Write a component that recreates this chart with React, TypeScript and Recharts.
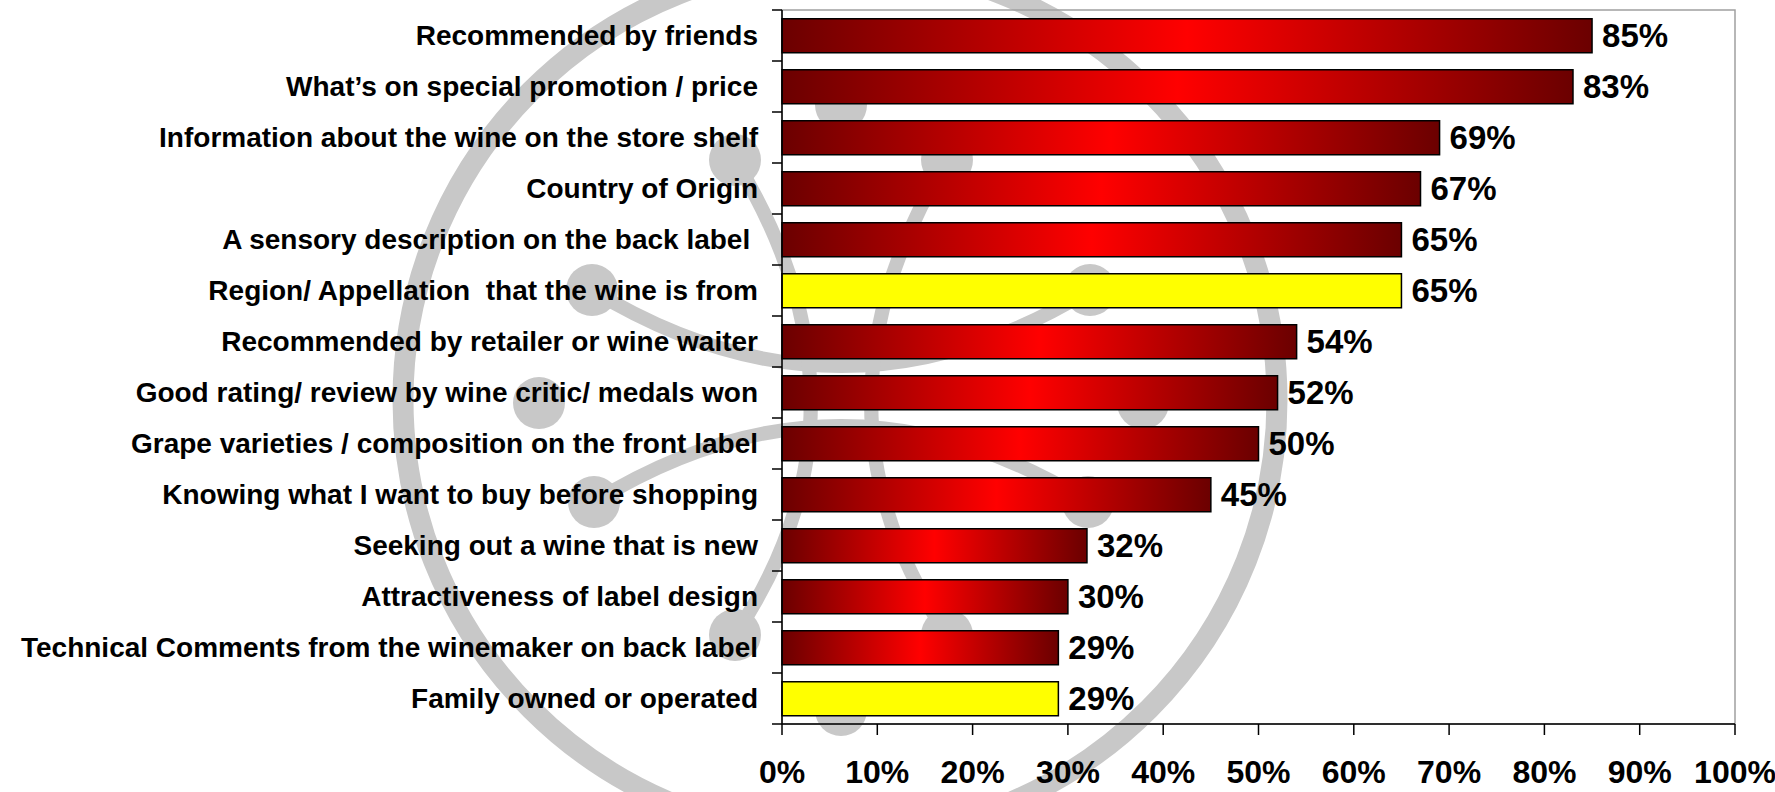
import React from 'react';
import { BarChart, Bar, XAxis, YAxis, Cell, LabelList, ReferenceArea } from 'recharts';

const categories = [
  'Recommended by friends',
  'What’s on special promotion / price',
  'Information about the wine on the store shelf',
  'Country of Origin',
  'A sensory description on the back label ',
  'Region/ Appellation  that the wine is from',
  'Recommended by retailer or wine waiter',
  'Good rating/ review by wine critic/ medals won',
  'Grape varieties / composition on the front label',
  'Knowing what I want to buy before shopping',
  'Seeking out a wine that is new',
  'Attractiveness of label design',
  'Technical Comments from the winemaker on back label',
  'Family owned or operated',
];
const values = [85, 83, 69, 67, 65, 65, 54, 52, 50, 45, 32, 30, 29, 29];
const highlighted = ['Region/ Appellation  that the wine is from', 'Family owned or operated'];
const xTicks = [0, 10, 20, 30, 40, 50, 60, 70, 80, 90, 100];

const W = 1775;
const H = 792;
const MARGIN = { top: 10, right: 40, bottom: 0, left: 0 };
const X_AXIS_H = 68;
const Y_AXIS_W = 782;
const BAND = (H - MARGIN.top - MARGIN.bottom - X_AXIS_H) / categories.length;
const FONT = '"Liberation Sans", Arial, sans-serif';
const GRAY = '#c8c8c8';

const data = categories.map((name, i) => ({ name, value: values[i] }));

// background logo: ring of nodes inside a big circle, purely decorative
const LOGO_C = { x: 841, y: 405 };
const nodes: [number, number][] = [
  [841, 105], [947, 160], [1090, 290], [1143, 403], [1088, 502], [947, 635],
  [841, 710], [735, 635], [594, 502], [539, 403], [592, 290], [735, 160],
];
// pairs of node indexes joined by a curve
const links: [number, number][] = [[10, 2], [8, 4], [7, 11], [1, 5]];

function Watermark() {
  const curves = links.map(([ia, ib], i) => {
    const a = nodes[ia];
    const b = nodes[ib];
    const mx = (a[0] + b[0]) / 2;
    const my = (a[1] + b[1]) / 2;
    const dx = LOGO_C.x - mx;
    const dy = LOGO_C.y - my;
    const len = Math.hypot(dx, dy) || 1;
    const cx = mx + (dx / len) * 152;
    const cy = my + (dy / len) * 152;
    return <path key={i} d={`M${a[0]},${a[1]} Q${cx},${cy} ${b[0]},${b[1]}`} fill="none" stroke={GRAY} strokeWidth={14} />;
  });
  return (
    <svg width={W} height={H} style={{ position: 'absolute', left: 0, top: 0 }}>
      <circle cx={840} cy={400} r={437} fill="none" stroke={GRAY} strokeWidth={21} />
      {curves}
      {nodes.map((n, i) => (
        <circle key={i} cx={n[0]} cy={n[1]} r={26} fill={GRAY} />
      ))}
    </svg>
  );
}

const CategoryTick = (props: any) => {
  const { x, y, payload, index } = props;
  const lx1 = x + 14;
  const lx2 = x + 24;
  return (
    <g>
      <line x1={lx1} x2={lx2} y1={y - BAND / 2} y2={y - BAND / 2} stroke="#000" strokeWidth={1.5} />
      {index === categories.length - 1 && (
        <line x1={lx1} x2={lx2} y1={y + BAND / 2} y2={y + BAND / 2} stroke="#000" strokeWidth={1.5} />
      )}
      <text
        x={x}
        y={y}
        dy="0.355em"
        textAnchor="end"
        fill="#000"
        fontSize={28}
        fontWeight="bold"
        fontFamily={FONT}
        style={{ whiteSpace: 'pre' }}
      >
        {payload.value}
      </text>
    </g>
  );
};

export default function App() {
  return (
    <div style={{ position: 'absolute', left: 0, top: 0, width: W, height: H, background: '#fff', overflow: 'hidden' }}>
      <Watermark />
      <div style={{ position: 'absolute', left: 0, top: 0 }}>
        <BarChart width={W} height={H} data={data} layout="vertical" margin={MARGIN} barCategoryGap="17%">
          <defs>
            <linearGradient id="redGrad" x1="0" y1="0" x2="1" y2="0">
              <stop offset="0%" stopColor="#6b0000" />
              <stop offset="50%" stopColor="#ff0000" />
              <stop offset="100%" stopColor="#6b0000" />
            </linearGradient>
          </defs>
          <ReferenceArea x1={0} x2={100} fill="none" stroke="#a0a0a0" strokeWidth={1.5} />
          <XAxis
            type="number"
            domain={[0, 100]}
            ticks={xTicks}
            interval={0}
            height={X_AXIS_H}
            tickFormatter={(v: number) => `${v}%`}
            axisLine={{ stroke: '#000', strokeWidth: 1.5 }}
            tickLine={{ stroke: '#000', strokeWidth: 1.5 }}
            tickSize={11}
            tickMargin={25}
            tick={{ fill: '#000', fontSize: 32, fontWeight: 'bold', fontFamily: FONT }}
          />
          <YAxis
            type="category"
            dataKey="name"
            width={Y_AXIS_W}
            interval={0}
            tickSize={10}
            tickMargin={14}
            tickLine={false}
            axisLine={{ stroke: '#000', strokeWidth: 1.5 }}
            tick={<CategoryTick />}
          />
          <Bar dataKey="value" isAnimationActive={false} stroke="#000" strokeWidth={1.5}>
            {data.map((d, i) => (
              <Cell key={`cell-${i}`} fill={highlighted.includes(d.name) ? '#ffff00' : 'url(#redGrad)'} />
            ))}
            <LabelList
              dataKey="value"
              position="right"
              offset={10}
              formatter={(v: any) => `${v}%`}
              style={{ fill: '#000', fontSize: 33, fontWeight: 'bold', fontFamily: FONT }}
            />
          </Bar>
        </BarChart>
      </div>
    </div>
  );
}
